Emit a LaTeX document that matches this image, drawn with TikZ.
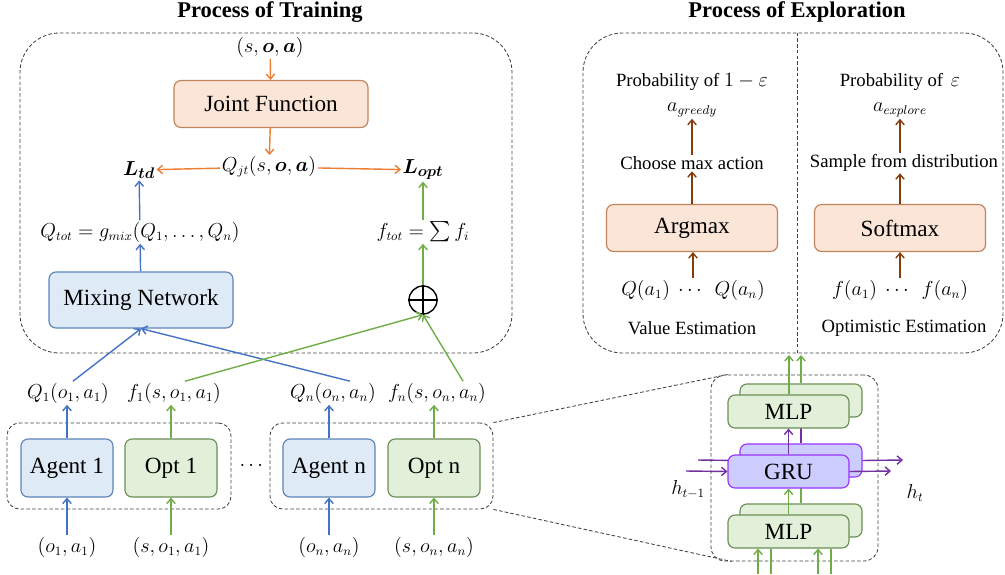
\documentclass[tikz,border=0pt]{standalone}
\usepackage{amsmath}
\usepackage{fontspec}
\setmainfont{Liberation Serif}
\usetikzlibrary{positioning,arrows.meta}

\definecolor{orgfill}{HTML}{FBE5D6}
\definecolor{orgline}{HTML}{C0835A}
\definecolor{orgarrow}{HTML}{ED7D31}
\definecolor{bluefill}{HTML}{DEEBF7}
\definecolor{blueline}{HTML}{5B84B8}
\definecolor{bluearrow}{HTML}{4472C4}
\definecolor{grnfill}{HTML}{E2F0D9}
\definecolor{grnline}{HTML}{6A8F55}
\definecolor{grnarrow}{HTML}{70AD47}
\definecolor{brnarrow}{HTML}{843C0C}
\definecolor{grufill}{HTML}{CCCCFF}
\definecolor{gruline}{HTML}{9933FF}
\definecolor{purarrow}{HTML}{7030A0}

\newcommand{\pxu}{0.025cm}

\tikzset{
	block/.style={draw,line width=0.8pt,rounded corners=5pt,align=center,font=\fontsize{16.5}{19}\selectfont},
	orgbox/.style={block,fill=orgfill,draw=orgline},
	bluebox/.style={block,fill=bluefill,draw=blueline},
	grnbox/.style={block,fill=grnfill,draw=grnline},
	grubox/.style={block,fill=grufill,draw=gruline},
	lbl/.style={font=\fontsize{13.5}{16}\selectfont,inner sep=1pt},
	loss/.style={font=\fontsize{15.5}{18}\selectfont,inner sep=1pt},
	note/.style={font=\fontsize{13.3}{16}\selectfont,inner sep=1pt},
	ttl/.style={font=\fontsize{16}{19}\selectfont\bfseries},
	frame/.style={draw=black!75,line width=0.6pt,dash pattern=on 2.5pt off 1.6pt},
	arr/.style={-{Straight Barb[length=3.5pt,width=6pt]},line width=1pt},
	orgarr/.style={arr,color=orgarrow},
	bluearr/.style={arr,color=bluearrow},
	grnarr/.style={arr,color=grnarrow},
	brnarr/.style={arr,color=brnarrow},
	purarr/.style={arr,color=purarrow}
}

% box node: style, position, name, width, height, text
\newcommand{\blocknode}[6]
{
	\node[#1,minimum width=#4*\pxu,minimum height=#5*\pxu] at (#2) (#3) {#6}
}

\begin{document}
\begin{tikzpicture}[x=\pxu,y=-\pxu]
	\useasboundingbox (0,0) rectangle (1005,574);

	%%% Titles
	\node[ttl] (titletrain) at (270,12) {Process of Training};
	\node[ttl] (titleexpl) at (797,12) {Process of Exploration};

	%%%%%%%%% PROCESS OF TRAINING %%%%%%%%%
	\node[frame,rounded corners=28pt,minimum width=492*\pxu,minimum height=320*\pxu] at (266,193) (trainbox) {};

	\node[lbl] (soa) at (270,47) {$(s,\boldsymbol{o},\boldsymbol{a})$};
	\blocknode{orgbox}{271,104}{joint}{194}{47}{Joint Function};
	\node[lbl] (qjt) at (269,167) {$Q_{jt}(s,\boldsymbol{o},\boldsymbol{a})$};
	\node[loss] (ltd) at (139,170) {$\boldsymbol{L_{td}}$};
	\node[loss] (lopt) at (423,170) {$\boldsymbol{L_{opt}}$};
	\draw[orgarr] (soa) -- (joint);
	\draw[orgarr] (joint) -- (qjt);
	\draw[orgarr] (qjt) -- (ltd);
	\draw[orgarr] (qjt) -- (lopt);

	\node[lbl] (qtot) at (140,232) {$Q_{tot}=g_{mix}(Q_1,\ldots,Q_n)$};
	\node[lbl] (ftot) at (423,232) {$f_{tot}=\textstyle\sum f_i$};
	\blocknode{bluebox}{141,300}{mixing}{184}{56}{Mixing Network};
	\node[circle,draw,line width=1pt,minimum size=28*\pxu,inner sep=0pt] at (423,300) (plus) {};
	\draw[line width=1pt] (plus.north) -- (plus.south) (plus.west) -- (plus.east);
	\draw[bluearr] (qtot) -- (ltd);
	\draw[bluearr] (mixing) -- (qtot);
	\draw[grnarr] (ftot) -- (lopt);
	\draw[grnarr] (plus) -- (ftot);

	%%%%%%%%% AGENTS
	\node[frame,rounded corners=9pt,minimum width=224*\pxu,minimum height=86*\pxu] at (119,466) (group1) {};
	\node[frame,rounded corners=9pt,minimum width=223*\pxu,minimum height=86*\pxu] at (381.5,466) (group2) {};
	\blocknode{bluebox}{67,468}{agent1}{92}{58}{Agent 1};
	\blocknode{grnbox}{171,468}{opt1}{92}{58}{Opt 1};
	\blocknode{bluebox}{329,468}{agentn}{92}{58}{Agent n};
	\blocknode{grnbox}{434,468}{optn}{92}{58}{Opt n};
	\node[lbl] (dots) at (253,466) {$\cdots$};

	\node[lbl] (q1) at (68,393) {$Q_1(o_1,a_1)$};
	\node[lbl] (f1) at (174,393) {$f_1(s,o_1,a_1)$};
	\node[lbl] (qn) at (333,393) {$Q_n(o_n,a_n)$};
	\node[lbl] (fn) at (437,393) {$f_n(s,o_n,a_n)$};
	\node[lbl] (in1) at (67,547) {$(o_1,a_1)$};
	\node[lbl] (is1) at (171,547) {$(s,o_1,a_1)$};
	\node[lbl] (inn) at (329,547) {$(o_n,a_n)$};
	\node[lbl] (isn) at (434,547) {$(s,o_n,a_n)$};

	\draw[bluearr] (in1) -- (agent1);
	\draw[grnarr] (is1) -- (opt1);
	\draw[bluearr] (inn) -- (agentn);
	\draw[grnarr] (isn) -- (optn);
	\draw[bluearr] (agent1) -- (agent1 |- q1.south);
	\draw[grnarr] (opt1) -- (opt1 |- f1.south);
	\draw[bluearr] (agentn) -- (agentn |- qn.south);
	\draw[grnarr] (optn) -- (optn |- fn.south);

	%%% crossing lines into the mixer and the sum
	\draw[bluearr] ([xshift=5*\pxu]q1.north) -- (mixing.south);
	\draw[bluearr] ([xshift=17*\pxu]qn.north) -- (mixing.south);
	\draw[grnarr] ([xshift=11*\pxu]f1.north) -- (plus.south);
	\draw[grnarr] ([xshift=26*\pxu]fn.north) -- (plus.south);

	%%%%%%%%% PROCESS OF EXPLORATION %%%%%%%%%
	\node[frame,rounded corners=28pt,minimum width=420*\pxu,minimum height=320*\pxu] at (793,193) (explbox) {};
	\draw[frame] (explbox.north -| 797,0) -- (explbox.south -| 797,0);

	%%% Value side
	\node[note] (prob1) at (692,82) {Probability of $1-\varepsilon$};
	\node[lbl] (agreedy) at (692,110) {$a_{greedy}$};
	\node[note] (choose) at (692,163) {Choose max action};
	\blocknode{orgbox}{692,228}{argmax}{171}{47}{Argmax};
	\node[lbl] (qa) at (693,290) {$Q(a_1)\ \cdots\ \ Q(a_n)$};
	\node[note] (valest) at (692,328) {Value Estimation};
	\draw[brnarr] (qa) -- (qa |- argmax.south);
	\draw[brnarr] (argmax) -- (choose);
	\draw[brnarr] (choose) -- (agreedy);

	%%% Optimistic side
	\node[note] (probe) at (900,82) {Probability of \,$\varepsilon$};
	\node[lbl] (aexplore) at (900,110) {$a_{explore}$};
	\node[note] (sample) at (904,163) {Sample from distribution};
	\blocknode{orgbox}{900,228}{softmax}{171}{47}{Softmax};
	\node[lbl] (fa) at (900,290) {$f(a_1)\ \cdots\ \ f(a_n)$};
	\node[note] (optest) at (904,328) {Optimistic Estimation};
	\draw[brnarr] (fa) -- (fa |- softmax.south);
	\draw[brnarr] (softmax) -- (softmax |- sample.south);
	\draw[brnarr] (softmax |- sample.north) -- (aexplore);

	%%%%%%%%% AGENT NETWORK DETAIL %%%%%%%%%
	\node[frame,rounded corners=10pt,minimum width=167*\pxu,minimum height=186*\pxu] at (794.5,468) (netbox) {};
	\draw[frame] (group2.north east) -- ([xshift=17*\pxu]netbox.north west);
	\draw[frame] (group2.south east) -- ([xshift=21*\pxu]netbox.south west);

	%%% back copies
	\blocknode{grnbox}{801,400.5}{mlptb}{122}{33}{};
	\blocknode{grubox}{801,460.5}{grub}{122}{33}{};
	\blocknode{grnbox}{801,520.5}{mlpbb}{122}{33}{};
	\draw[line width=1pt,grnarrow] (mlpbb) -- (grub);
	\draw[line width=1pt,purarrow] (grub) -- (mlptb);
	\coordinate (hin2) at (698,460);
	\draw[line width=1pt,purarrow] (hin2) -- (grub.west);

	%%% front copies
	\blocknode{grnbox}{788.5,411.5}{mlpt}{121}{33}{MLP};
	\blocknode{grubox}{788.5,471.5}{gru}{121}{33}{GRU};
	\blocknode{grnbox}{788.5,531.5}{mlpb}{121}{33}{MLP};

	\coordinate (in1a) at (758,574);
	\coordinate (in1b) at (771,574);
	\coordinate (in2a) at (818,574);
	\coordinate (in2b) at (831,574);
	\draw[grnarr] (in1a) -- (in1a |- mlpb.south);
	\draw[line width=1pt,grnarrow] (in1b) -- (in1b |- mlpb.south);
	\draw[grnarr] (in2a) -- (in2a |- mlpb.south);
	\draw[line width=1pt,grnarrow] (in2b) -- (in2b |- mlpb.south);
	\draw[grnarr] (mlpb) -- (gru);
	\draw[purarr] (gru) -- (mlpt);

	\coordinate (out1) at (789,355);
	\coordinate (out2) at (801,355);
	\draw[grnarr] (mlpt.north -| out1) -- (out1);
	\draw[grnarr] (mlptb.north -| out2) -- (out2);

	\coordinate (hin1) at (686,471);
	\coordinate (hout1) at (891,471);
	\coordinate (hout2) at (903,460);
	\draw[purarr] (hin1) -- (gru.west);
	\draw[purarr] (gru.east) -- (hout1);
	\draw[purarr] (grub.east) -- (hout2);
	\node[lbl] (hprev) at (688,490) {$h_{t-1}$};
	\node[lbl] (hnext) at (915,493) {$h_t$};
\end{tikzpicture}
\end{document}
